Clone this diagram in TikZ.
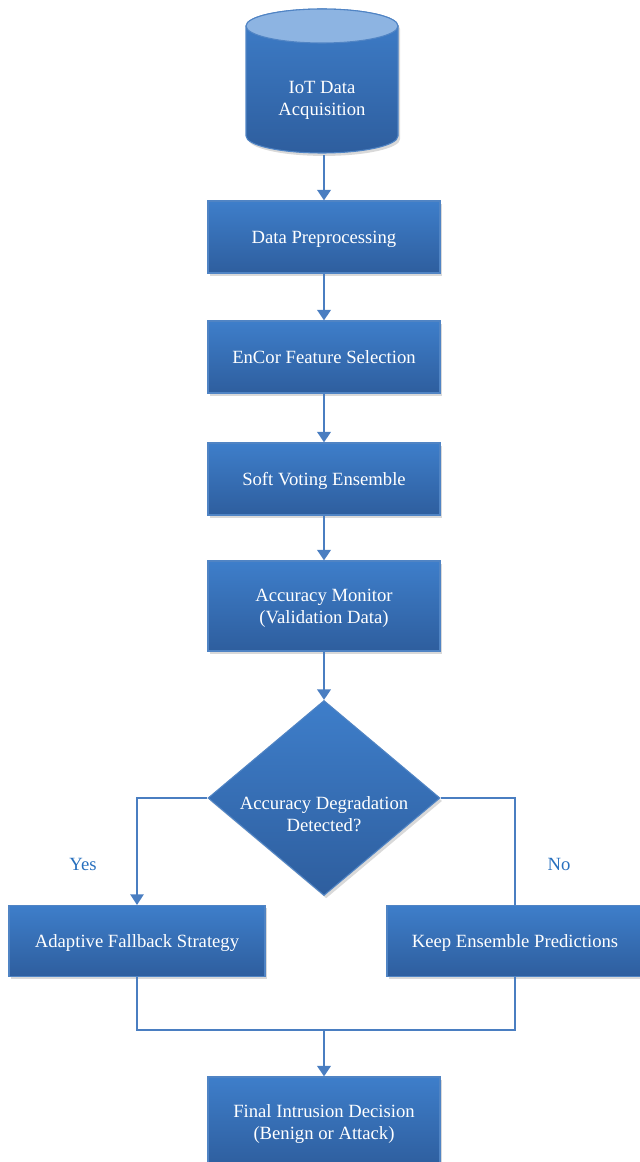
\documentclass[tikz,border=0pt]{standalone}
\usepackage{fontspec}
\setmainfont{Liberation Serif}
\usetikzlibrary{shapes.geometric,shadows,arrows.meta}
\newcommand{\pxu}[1]{#1*0.75pt}
\definecolor{boxtop}{RGB}{62,126,202}
\definecolor{boxbot}{RGB}{46,94,158}
\definecolor{boxedge}{RGB}{80,132,196}
\definecolor{cyltop}{RGB}{141,180,226}
\definecolor{arr}{RGB}{74,126,193}
\definecolor{lab}{RGB}{40,112,190}
\tikzset{
  x=0.75pt, y=-0.75pt,
  basebox/.style={top color=boxtop, bottom color=boxbot, draw=boxedge, line width=0.8pt,
    drop shadow={opacity=0.3, shadow xshift=1.6pt, shadow yshift=-2.2pt},
    text=white, align=center, font=\fontsize{14}{16.5}\selectfont, inner sep=0pt, text depth=0pt},
  procbox/.style={basebox, rectangle, minimum width=\pxu{232}, minimum height=\pxu{72}},
  tallbox/.style={basebox, rectangle, minimum width=\pxu{232}, minimum height=\pxu{90}},
  widebox/.style={basebox, rectangle, minimum width=\pxu{256}, minimum height=\pxu{71}},
  decbox/.style={basebox, diamond, minimum width=\pxu{232}, minimum height=\pxu{195}},
  txt/.style={text=white, align=center, font=\fontsize{14}{16.5}\selectfont, inner sep=0pt},
  flow/.style={draw=arr, line width=2.2pt, -{Triangle[width=10pt,length=8pt]}},
  branch/.style={draw=arr, line width=1.3pt},
  branchar/.style={branch, -{Triangle[width=10pt,length=8pt]}},
  ylab/.style={text=lab, font=\fontsize{14}{16.5}\selectfont}
}
\begin{document}
\begin{tikzpicture}
\useasboundingbox (0,0) rectangle (639,1162);
% cylinder
\path[top color=boxtop, bottom color=boxbot, draw=boxedge, line width=0.8pt,
  drop shadow={opacity=0.3, shadow xshift=1.6pt, shadow yshift=-2.2pt}]
  (246,26) -- (246,136) arc[start angle=180, end angle=0, x radius=76, y radius=17]
  -- (398,26) arc[start angle=0, end angle=-180, x radius=76, y radius=17] -- cycle;
\path[fill=cyltop, draw=boxedge, line width=0.8pt] (322,26) ellipse[x radius=76, y radius=17];
\node[txt, minimum width=\pxu{152}, minimum height=\pxu{110}] (acq) at (322,100) {IoT Data\\Acquisition};

\node[procbox] (pre) at (324,237) {Data Preprocessing};
\node[procbox] (fs) at (324,357) {EnCor Feature Selection};
\node[procbox] (sv) at (324,479) {Soft Voting Ensemble};
\node[tallbox] (am) at (324,606) {Accuracy Monitor\\(Validation Data)};
\node[decbox] (dec) at (324,798) {};
\node[txt] (dectxt) at (324,814) {Accuracy Degradation\\Detected?};
\node[widebox] (ada) at (137,941) {Adaptive Fallback Strategy};
\node[widebox] (keep) at (515,941) {Keep Ensemble Predictions};
\node[tallbox] (fin) at (324,1122) {Final Intrusion Decision\\(Benign or Attack)};

\node[ylab] (yes) at (83,864) {Yes};
\node[ylab] (no) at (559,864) {No};

\coordinate (m) at (324,1030);

\draw[flow] (acq.south -| pre.north) -- (pre.north);
\draw[flow] (pre.south) -- (fs.north);
\draw[flow] (fs.south) -- (sv.north);
\draw[flow] (sv.south) -- (am.north);
\draw[flow] (am.south) -- (dec.north);
\draw[branchar] (dec.west) -| (ada.north);
\draw[branch] (dec.east) -| (keep.north);
\draw[branch] (ada.south) |- (m);
\draw[branch] (keep.south) |- (m);
\draw[flow] (m) -- (fin.north);
\end{tikzpicture}
\end{document}
